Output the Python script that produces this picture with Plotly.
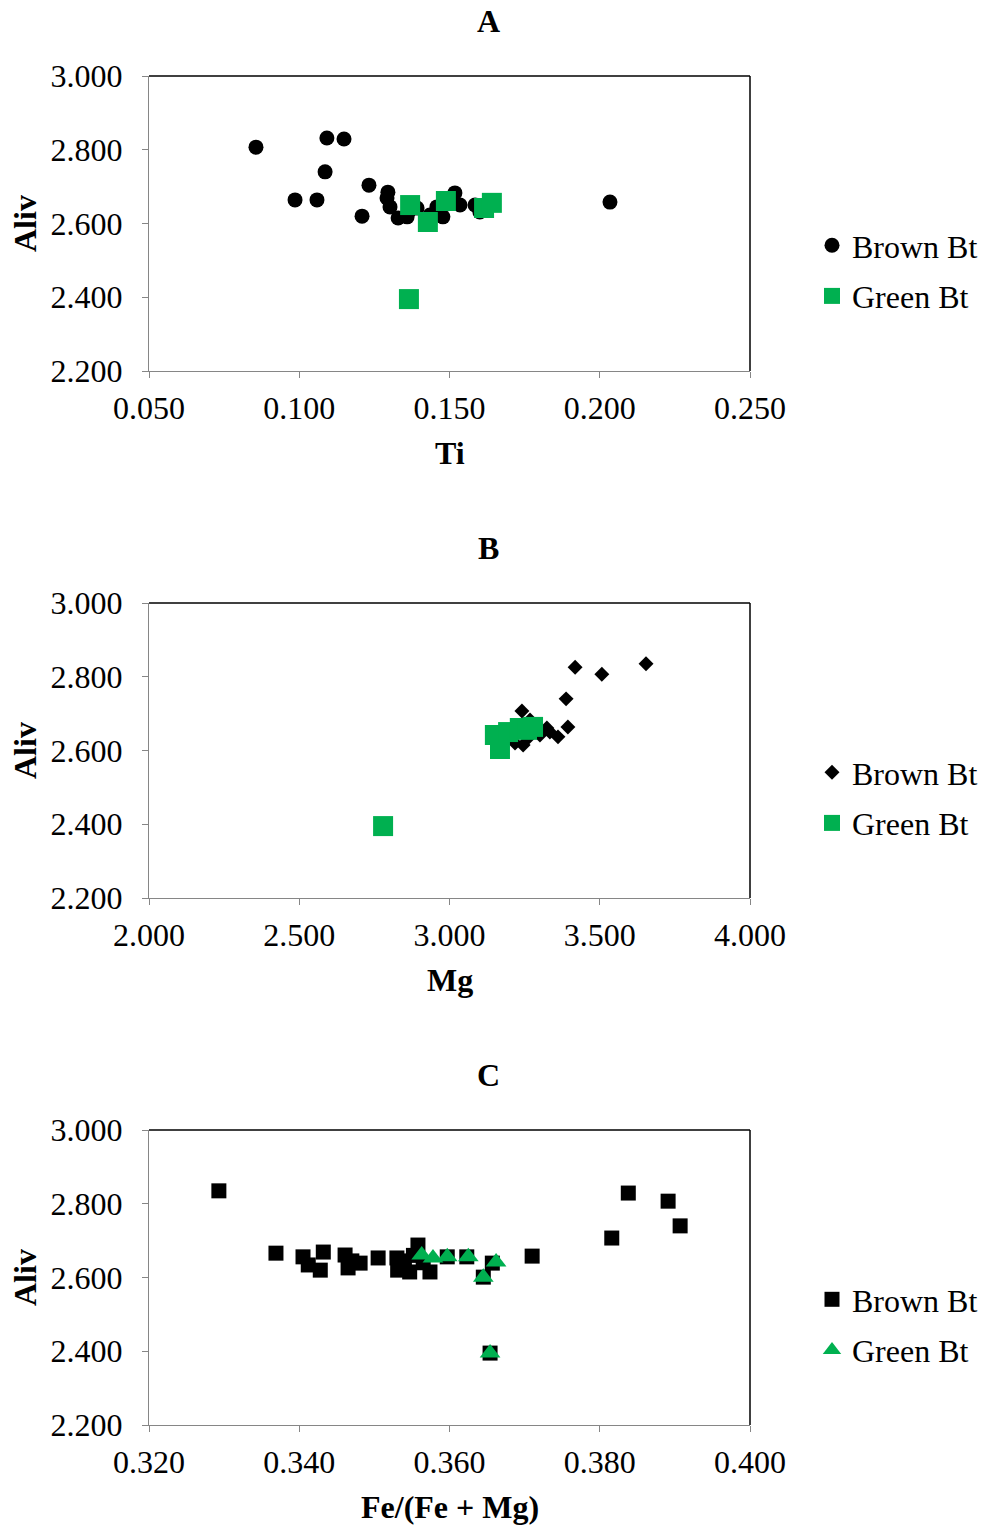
import plotly.graph_objects as go

# ---------------- data ----------------
# Panel A: Ti vs Aliv
a_brown_ti = [0.0856, 0.0986, 0.1059, 0.1086, 0.1092, 0.1149, 0.1232, 0.1209, 0.1295, 0.1292,
              0.1302, 0.1329, 0.1359, 0.1392, 0.1458, 0.1478, 0.1518, 0.1535, 0.1585, 0.1601,
              0.2034, 0.1369, 0.1435]
a_brown_al = [2.807, 2.664, 2.664, 2.740, 2.832, 2.829, 2.704, 2.620, 2.685, 2.669,
              2.645, 2.615, 2.618, 2.642, 2.645, 2.618, 2.683, 2.650, 2.650, 2.631,
              2.658, 2.637, 2.623]
a_green_ti = [0.1369, 0.1428, 0.1488, 0.1365, 0.1615, 0.1641]
a_green_al = [2.650, 2.604, 2.661, 2.395, 2.642, 2.656]

# Panel B: Mg vs Aliv
b_brown_mg = [3.418, 3.507, 3.654, 3.388, 3.394, 3.361, 3.334, 3.241, 3.268, 3.245,
              3.218, 3.301, 3.324, 3.185, 3.285, 3.261]
b_brown_al = [2.826, 2.807, 2.835, 2.740, 2.664, 2.637, 2.650, 2.707, 2.683, 2.615,
              2.620, 2.642, 2.661, 2.628, 2.669, 2.634]
b_green_mg = [2.779, 3.168, 3.151, 3.195, 3.234, 3.278, 3.258]
b_green_al = [2.395, 2.604, 2.642, 2.650, 2.661, 2.664, 2.656]

# Panel C: Fe/(Fe+Mg) vs Aliv
c_brown_fe = [0.3293, 0.3369, 0.3405, 0.3412, 0.3432, 0.3428, 0.3461, 0.3465, 0.3481, 0.3505,
              0.3530, 0.3531, 0.3547, 0.3558, 0.3574, 0.3597, 0.3623, 0.3657, 0.3645, 0.3710,
              0.3654, 0.3838, 0.3891, 0.3907, 0.3816, 0.3540, 0.3552, 0.3565, 0.3470, 0.3535]
c_brown_al = [2.835, 2.666, 2.656, 2.634, 2.669, 2.620, 2.661, 2.626, 2.639, 2.653,
              2.653, 2.620, 2.615, 2.688, 2.615, 2.656, 2.656, 2.639, 2.601, 2.658,
              2.395, 2.829, 2.807, 2.740, 2.707, 2.645, 2.660, 2.640, 2.645, 2.632]
c_green_fe = [0.3563, 0.3578, 0.3597, 0.3625, 0.3645, 0.3662, 0.3654]
c_green_al = [2.661, 2.653, 2.656, 2.656, 2.601, 2.642, 2.395]

panel_titles = ["A", "B", "C"]
x_titles = ["Ti", "Mg", "Fe/(Fe + Mg)"]
y_title = "Aliv"
x_ranges = [[0.05, 0.25], [2.0, 4.0], [0.32, 0.40]]
x_dticks = [0.05, 0.5, 0.02]
y_range = [2.2, 3.0]
series_names = ["Brown Bt", "Green Bt"]

# ---------------- layout helpers ----------------
W, H = 985, 1527
GREEN = "#00B050"
AXC = "#868686"
FONT = "Liberation Serif, Times New Roman, serif"
FS = 32

def px_x(p):
    return p / W

def px_y(p):
    return 1 - p / H

plot_left, plot_right = 149, 750
plot_tops = [76, 603, 1130]
plot_h = 295

fig = go.Figure()

brown_symbols = ["circle", "diamond", "square"]
brown_sizes = [15, 11.5, 15]
green_symbols = ["square", "square", "triangle-up"]
green_sizes = [20, 20, 18]
data = [
    (a_brown_ti, a_brown_al, a_green_ti, a_green_al),
    (b_brown_mg, b_brown_al, b_green_mg, b_green_al),
    (c_brown_fe, c_brown_al, c_green_fe, c_green_al),
]
legend_ids = ["legend", "legend2", "legend3"]

for i in range(3):
    xa = "x" if i == 0 else f"x{i+1}"
    ya = "y" if i == 0 else f"y{i+1}"
    bx, by, gx, gy = data[i]
    fig.add_trace(go.Scatter(
        x=bx, y=by, mode="markers", name=series_names[0], xaxis=xa, yaxis=ya,
        marker=dict(symbol=brown_symbols[i], size=brown_sizes[i], color="black", line=dict(width=0)),
        legend=legend_ids[i], legendgroup=f"b{i}"))
    fig.add_trace(go.Scatter(
        x=gx, y=gy, mode="markers", name=series_names[1], xaxis=xa, yaxis=ya,
        marker=dict(symbol=green_symbols[i], size=green_sizes[i], color=GREEN, line=dict(width=0)),
        legend=legend_ids[i], legendgroup=f"g{i}"))

layout = dict(
    width=W, height=H, margin=dict(l=0, r=0, t=0, b=0, autoexpand=False),
    paper_bgcolor="white", plot_bgcolor="white",
    font=dict(family=FONT, size=FS, color="black"),
)

annotations = []
shapes = []
for i in range(3):
    top = plot_tops[i]
    bot = top + plot_h
    xk = "xaxis" if i == 0 else f"xaxis{i+1}"
    yk = "yaxis" if i == 0 else f"yaxis{i+1}"
    ya_ref = "y" if i == 0 else f"y{i+1}"
    xa_ref = "x" if i == 0 else f"x{i+1}"
    layout[xk] = dict(
        domain=[px_x(plot_left), px_x(plot_right)], anchor=ya_ref,
        range=x_ranges[i], dtick=x_dticks[i], tick0=x_ranges[i][0], tickformat=".3f",
        showgrid=False, zeroline=False, showline=True, linecolor=AXC, linewidth=1.3,
        ticks="outside", ticklen=6, tickcolor=AXC, tickwidth=1.3, automargin=False,
        tickfont=dict(family=FONT, size=FS, color="black"), ticklabelstandoff=2,
    )
    layout[yk] = dict(
        domain=[px_y(bot), px_y(top)], anchor=xa_ref,
        range=y_range, dtick=0.2, tick0=2.2, tickformat=".3f",
        showgrid=False, zeroline=False, showline=True, linecolor=AXC, linewidth=1.3,
        ticks="outside", ticklen=6, tickcolor=AXC, tickwidth=1.3, automargin=False,
        tickfont=dict(family=FONT, size=FS, color="black"), ticklabelstandoff=13,
    )
    shapes.append(dict(type="line", xref="paper", yref="paper",
                       x0=px_x(plot_left), x1=px_x(plot_right), y0=px_y(top), y1=px_y(top),
                       line=dict(color="black", width=1.5)))
    shapes.append(dict(type="line", xref="paper", yref="paper",
                       x0=px_x(plot_right), x1=px_x(plot_right), y0=px_y(top), y1=px_y(bot),
                       line=dict(color="black", width=1.5)))
    annotations.append(dict(text=f"<b>{panel_titles[i]}</b>", xref="paper", yref="paper",
                            x=px_x(488), y=px_y(top - 55), xanchor="center", yanchor="middle",
                            showarrow=False, font=dict(family=FONT, size=32, color="black")))
    annotations.append(dict(text=f"<b>{x_titles[i]}</b>", xref="paper", yref="paper",
                            x=px_x(450), y=px_y(bot + 82), xanchor="center", yanchor="middle",
                            showarrow=False, font=dict(family=FONT, size=FS, color="black")))
    annotations.append(dict(text=f"<b>{y_title}</b>", xref="paper", yref="paper",
                            x=px_x(25), y=px_y(top + 148), xanchor="center", yanchor="middle",
                            textangle=-90, showarrow=False,
                            font=dict(family=FONT, size=FS, color="black")))
    lk = legend_ids[i]
    layout[lk] = dict(
        x=px_x(812), y=px_y(top + 142), xanchor="left", yanchor="top",
        font=dict(family=FONT, size=FS, color="black"), bgcolor="rgba(0,0,0,0)",
        tracegroupgap=6, traceorder="grouped", itemsizing="trace",
    )

layout["annotations"] = annotations
layout["shapes"] = shapes
fig.update_layout(**layout)

fig.write_html("out.html", config={"displayModeBar": False},
               post_script="document.body.style.margin='0';")
